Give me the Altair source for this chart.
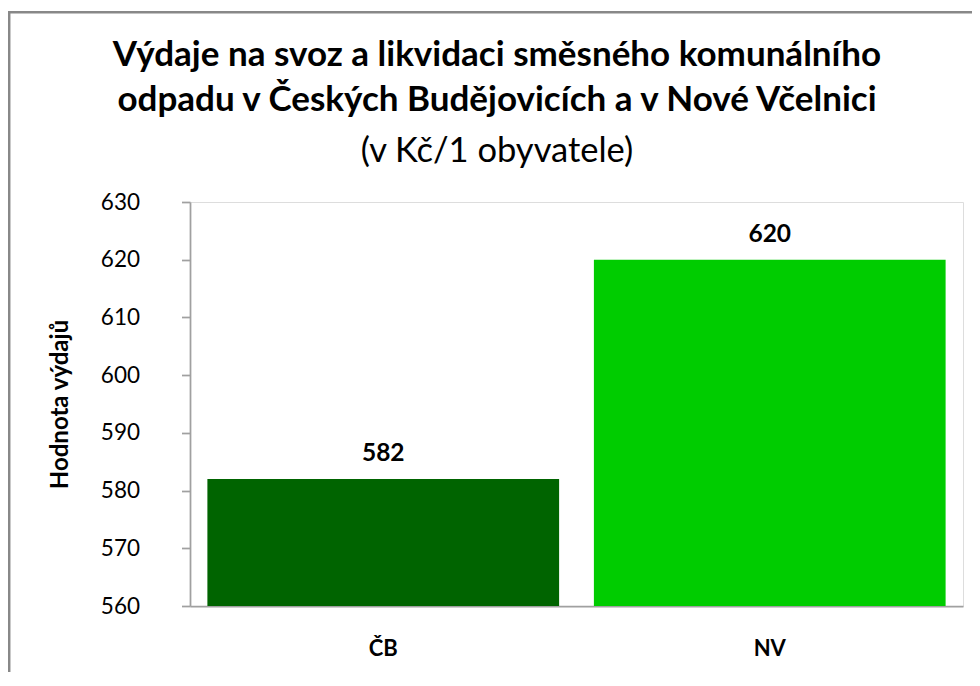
import altair as alt
import pandas as pd

categories = ["ČB", "NV"]
values = [582, 620]
colors = ["#006400", "#00CC00"]
y_ticks = [560, 570, 580, 590, 600, 610, 620, 630]

title_lines = ["Výdaje na svoz a likvidaci směsného komunálního",
               "odpadu v Českých Budějovicích a v Nové Včelnici"]
subtitle = "(v Kč/1 obyvatele)"
y_title = "Hodnota výdajů"

df = pd.DataFrame({"cat": categories, "val": values})

W, H = 773, 404
PAD = {"left": 182, "top": 194, "right": 9, "bottom": 66}
FONT = "Lato"
AXIS_GRAY = "#a0a0a0"

base = alt.Chart(df)

bars = base.mark_bar().encode(
    x=alt.X("cat:N", sort=None,
            scale=alt.Scale(paddingInner=0.09, paddingOuter=0.045),
            axis=alt.Axis(title=None, ticks=False, tickSize=0, labelAngle=0,
                          labelPadding=32, labelFont=FONT, labelFontSize=22,
                          labelFontWeight="bold", labelColor="black",
                          domainColor=AXIS_GRAY, domainWidth=1.75)),
    y=alt.Y("val:Q",
            scale=alt.Scale(domain=[560, 630], zero=False, nice=False),
            axis=alt.Axis(values=y_ticks, grid=False, tickSize=8.5,
                          tickColor=AXIS_GRAY, tickWidth=1.75,
                          domainColor=AXIS_GRAY, domainWidth=1.75,
                          labelPadding=42, labelFont=FONT, labelFontSize=22.5,
                          labelColor="black",
                          title=y_title, titleFont=FONT, titleFontSize=24,
                          titleFontWeight="bold", titleColor="black",
                          titleAngle=270, titleX=-130, titleY=H / 2,
                          titleAlign="center", titleBaseline="middle")),
    y2=alt.datum(560),
    color=alt.Color("cat:N", scale=alt.Scale(domain=categories, range=colors),
                    legend=None),
)

labels = base.mark_text(dy=-18, baseline="alphabetic", font=FONT,
                        fontSize=24.5, fontWeight="bold", color="black").encode(
    x=alt.X("cat:N", sort=None),
    y=alt.Y("val:Q"),
    text=alt.Text("val:Q"),
)

border_data = alt.Data(values=[{"k": 1}])
left_border = alt.Chart(border_data).mark_rule(color="#888888", strokeWidth=2.5).encode(
    x=alt.value(-180.8), y=alt.value(-189.8), y2=alt.value(H + PAD["bottom"] + 5))
top_border = alt.Chart(border_data).mark_rule(color="#888888", strokeWidth=2.5).encode(
    x=alt.value(-182), x2=alt.value(W + PAD["right"] + 5), y=alt.value(-189.8))

chart = alt.layer(bars, labels, left_border, top_border).properties(
    width=W, height=H,
    padding=PAD,
    autosize=alt.AutoSizeParams(type="none"),
    title=alt.TitleParams(
        text=title_lines, subtitle=subtitle,
        font=FONT, fontSize=35, fontWeight="bold", color="black",
        lineHeight=45,
        subtitleFont=FONT, subtitleFontSize=34.5, subtitleFontWeight="normal",
        subtitleColor="black", subtitlePadding=17,
        anchor="middle", frame="group", dx=-79.5, offset=-158),
).configure_view(stroke=None).configure(background="white")

chart.save("out.html", embed_options={"renderer": "svg", "actions": False})
